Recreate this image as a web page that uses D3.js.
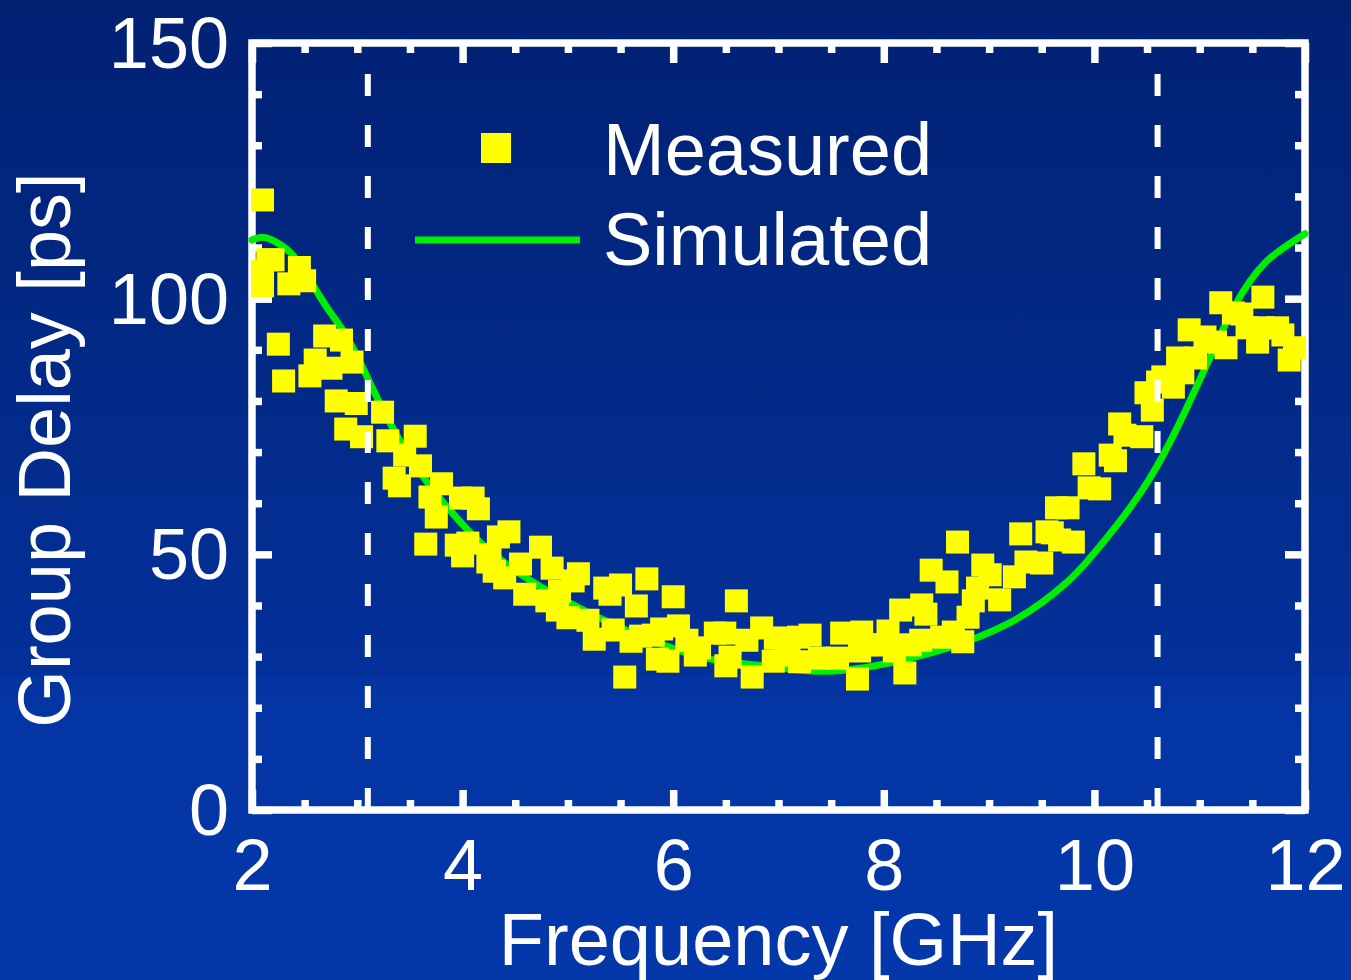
<!DOCTYPE html>
<html>
<head>
<meta charset="utf-8">
<script src="https://cdn.jsdelivr.net/npm/d3@7"></script>
<style>
  html, body { margin: 0; padding: 0; background: #02297f; }
  svg { display: block; }
  text { font-family: "Liberation Sans", Arial, sans-serif; fill: #ffffff; }
</style>
</head>
<body>
<svg id="chart" width="1351" height="980"></svg>
<script>
// ---------------- data ----------------
const xMajorTicks = [2, 4, 6, 8, 10, 12];
const xMinorTicks = [2.5, 3, 3.5, 4.5, 5, 5.5, 6.5, 7, 7.5, 8.5, 9, 9.5, 10.5, 11, 11.5];
const yMajorTicks = [0, 50, 100, 150];
const yMinorTicks = [10, 20, 30, 40, 60, 70, 80, 90, 110, 120, 130, 140];
const bandEdges = [3.1, 10.6]; // UWB band markers (GHz)

// Simulated group delay (ps) vs frequency (GHz)
const simFreq  = [2.0, 2.1, 2.2, 2.4, 2.6, 2.75, 2.9, 3.05, 3.2, 3.35, 3.6, 3.9, 4.17, 4.5, 5.0, 5.5, 6.0, 6.35, 6.8, 7.2, 7.46, 7.75, 7.95, 8.22, 8.69, 9.17, 9.51, 9.77, 9.9, 10.21, 10.53, 10.78, 11.0, 11.16, 11.32, 11.48, 11.62, 11.76, 12.0];
const simDelay = [111.5, 112.3, 111.5, 109.0, 101.8, 97.0, 93.0, 86.6, 80.0, 74.0, 65.5, 58.0, 52.0, 46.5, 40.5, 35.5, 31.5, 29.2, 28.4, 27.3, 27.0, 27.6, 28.3, 29.5, 32.0, 36.0, 40.5, 45.0, 47.8, 55.4, 64.5, 74.3, 84.1, 91.3, 98.4, 103.7, 107.2, 109.5, 112.7];

// Measured group delay (ps) vs frequency (GHz)
const measFreq = [
  2.10, 2.15, 2.20, 2.10, 2.10, 2.45, 2.50, 2.35, 2.25, 2.30,
  2.69, 2.85, 2.60, 2.95, 2.55, 2.75, 2.80, 2.99, 2.89, 3.04,
  3.24, 3.29, 3.45, 3.55, 3.60, 3.35, 3.40, 3.80, 3.69, 3.98,
  4.10, 3.75, 4.15, 3.65, 3.94, 4.05, 4.00, 4.26, 4.34, 4.44,
  4.24, 4.30, 4.40, 4.74, 4.55, 4.85, 5.10, 4.59, 4.80, 4.92,
  5.05, 5.35, 5.50, 5.75, 5.40, 5.65, 6.00, 6.60, 4.90, 5.00,
  5.19, 5.25, 5.43, 5.60, 5.69, 5.81, 5.89, 6.05, 5.85, 5.95,
  5.54, 6.13, 6.25, 6.21, 6.40, 6.49, 6.50, 6.54, 6.70, 6.75,
  6.84, 6.95, 6.97, 7.06, 7.10, 7.19, 7.20, 7.30, 7.39, 7.60,
  7.56, 7.79, 7.75, 7.77, 7.88, 8.04, 7.94, 8.10, 8.20, 8.16,
  8.25, 8.36, 8.40, 8.45, 8.60, 8.70, 8.35, 8.55, 8.66, 8.75,
  8.80, 8.85, 8.89, 8.94, 9.01, 9.10, 9.24, 9.30, 9.35, 9.50,
  9.55, 9.60, 9.64, 9.67, 9.75, 9.80, 9.95, 10.05, 9.90, 10.15,
  10.20, 10.24, 10.29, 10.45, 10.49, 10.55, 10.60, 10.65, 10.75, 10.79,
  10.84, 10.90, 10.96, 11.05, 11.15, 11.25, 11.20, 11.32, 11.40, 11.45,
  11.55, 11.60, 11.60, 11.74, 11.79, 11.85, 11.90
];
const measDelay = [
  119.3, 107.6, 107.6, 105.4, 102.5, 106.1, 103.5, 102.9, 91.1, 83.9,
  92.7, 91.9, 88.0, 87.6, 84.9, 86.4, 80.0, 79.5, 74.5, 73.0,
  77.8, 72.2, 69.4, 73.1, 67.3, 64.9, 63.4, 63.8, 61.2, 61.0,
  61.0, 57.3, 58.9, 52.0, 51.8, 52.2, 49.7, 49.9, 53.4, 54.4,
  48.5, 46.7, 45.4, 51.4, 48.1, 47.3, 46.2, 42.2, 40.9, 42.8,
  44.8, 43.4, 44.0, 45.2, 42.2, 39.9, 41.7, 40.9, 39.1, 37.6,
  37.1, 33.4, 35.2, 33.0, 34.0, 34.2, 35.4, 36.0, 29.5, 29.1,
  26.0, 33.2, 31.7, 30.3, 34.6, 34.6, 28.2, 29.9, 33.2, 26.0,
  35.6, 29.1, 33.6, 33.6, 30.3, 33.8, 29.0, 34.2, 29.7, 34.6,
  29.7, 34.8, 25.6, 31.1, 32.3, 35.0, 32.3, 31.1, 26.8, 39.1,
  32.3, 40.1, 38.3, 46.9, 44.6, 52.4, 33.2, 33.8, 34.8, 32.9,
  37.7, 40.9, 43.4, 47.9, 46.0, 41.1, 45.6, 54.0, 48.5, 48.3,
  54.4, 54.2, 59.1, 52.8, 59.1, 52.4, 63.0, 62.8, 67.7, 69.4,
  68.3, 75.5, 73.3, 73.0, 81.6, 78.2, 83.7, 84.7, 82.7, 88.4,
  85.5, 93.9, 88.4, 92.5, 91.5, 90.4, 99.2, 97.2, 97.0, 94.3,
  91.5, 100.3, 94.3, 94.3, 92.9, 88.0, 90.4
];

const legendLabels = ["Measured", "Simulated"];
const xTitle = "Frequency [GHz]";
const yTitle = "Group Delay [ps]";

// ---------------- layout ----------------
const W = 1351, H = 980;
const plot = { left: 252, right: 1305, top: 43, bottom: 810 };
const svg = d3.select("#chart");

// background gradient
const defs = svg.append("defs");
const grad = defs.append("linearGradient").attr("id", "bg")
  .attr("x1", 0).attr("y1", 0).attr("x2", 0).attr("y2", 1);
[["0", "#012173"], ["0.4", "#022a88"], ["0.69", "#03309a"], ["0.69", "#0334a2"], ["1", "#0338ab"]]
  .forEach(([o, c]) => grad.append("stop").attr("offset", o).attr("stop-color", c));
svg.append("rect").attr("width", W).attr("height", H).attr("fill", "url(#bg)");

const x = d3.scaleLinear().domain([2, 12]).range([plot.left, plot.right]);
const y = d3.scaleLinear().domain([0, 150]).range([plot.bottom, plot.top]);

const FONT = 72;
const SW = 7.5;

function styleAxis(g) {
  g.select(".domain").remove();
  g.selectAll(".tick line").attr("stroke", "#fff").attr("stroke-width", SW);
  g.selectAll("text").attr("fill", "#fff").style("font-size", FONT + "px")
    .style("font-family", '"Liberation Sans", Arial, sans-serif');
}

// bottom axis (major with labels)
svg.append("g").attr("transform", `translate(0,${plot.bottom})`)
  .call(d3.axisBottom(x).tickValues(xMajorTicks).tickSize(-20).tickPadding(29).tickFormat(d3.format("d")))
  .call(styleAxis);
svg.append("g").attr("transform", `translate(0,${plot.bottom})`)
  .call(d3.axisBottom(x).tickValues(xMinorTicks).tickSize(-10).tickFormat(""))
  .call(styleAxis);
// top axis (mirror)
svg.append("g").attr("transform", `translate(0,${plot.top})`)
  .call(d3.axisTop(x).tickValues(xMajorTicks).tickSize(-20).tickFormat(""))
  .call(styleAxis);
svg.append("g").attr("transform", `translate(0,${plot.top})`)
  .call(d3.axisTop(x).tickValues(xMinorTicks).tickSize(-10).tickFormat(""))
  .call(styleAxis);
// left axis
const yl = svg.append("g").attr("transform", `translate(${plot.left},0)`)
  .call(d3.axisLeft(y).tickValues(yMajorTicks).tickSize(-20).tickPadding(23).tickFormat(d3.format("d")))
  .call(styleAxis);
yl.selectAll("text").attr("dy", "0.34em");
svg.append("g").attr("transform", `translate(${plot.left},0)`)
  .call(d3.axisLeft(y).tickValues(yMinorTicks).tickSize(-10).tickFormat(""))
  .call(styleAxis);
// right axis
svg.append("g").attr("transform", `translate(${plot.right},0)`)
  .call(d3.axisRight(y).tickValues(yMajorTicks).tickSize(-20).tickFormat(""))
  .call(styleAxis);
svg.append("g").attr("transform", `translate(${plot.right},0)`)
  .call(d3.axisRight(y).tickValues(yMinorTicks).tickSize(-10).tickFormat(""))
  .call(styleAxis);

// frame
svg.append("rect")
  .attr("x", plot.left).attr("y", plot.top)
  .attr("width", plot.right - plot.left).attr("height", plot.bottom - plot.top)
  .attr("fill", "none").attr("stroke", "#fff").attr("stroke-width", SW);

// simulated curve
const sim = simFreq.map((f, i) => [f, simDelay[i]]);
const line = d3.line().x(d => x(d[0])).y(d => y(d[1])).curve(d3.curveBasis);
svg.append("path").datum(sim)
  .attr("d", line).attr("fill", "none")
  .attr("stroke", "#00ee00").attr("stroke-width", 7).attr("stroke-linecap", "round");

// measured points
const meas = measFreq.map((f, i) => [f, measDelay[i]]);
const SQ = 23;
svg.append("g").selectAll("rect").data(meas).join("rect")
  .attr("x", d => x(d[0]) - SQ / 2).attr("y", d => y(d[1]) - SQ / 2)
  .attr("width", SQ).attr("height", SQ).attr("fill", "#ffff00");

// band-edge dashed lines
svg.append("g").selectAll("line").data(bandEdges).join("line")
  .attr("x1", d => x(d)).attr("x2", d => x(d))
  .attr("y1", y(150) + 31).attr("y2", y(0))
  .attr("stroke", "#fff").attr("stroke-width", 6)
  .attr("stroke-dasharray", "22,29");

// legend
svg.append("rect").attr("x", 481).attr("y", 133).attr("width", 30).attr("height", 30).attr("fill", "#ffff00");
svg.append("line").attr("x1", 415).attr("x2", 580).attr("y1", 240).attr("y2", 240)
  .attr("stroke", "#00ee00").attr("stroke-width", 7);
svg.append("text").attr("x", 603).attr("y", 175).style("font-size", "74px").text(legendLabels[0]);
svg.append("text").attr("x", 603).attr("y", 265).style("font-size", "74px").text(legendLabels[1]);

// axis titles
svg.append("text").attr("x", (plot.left + plot.right) / 2).attr("y", 965)
  .attr("text-anchor", "middle").style("font-size", "74px").text(xTitle);
svg.append("text").attr("transform", "translate(70,450) rotate(-90)")
  .attr("text-anchor", "middle").style("font-size", "74px").text(yTitle);
</script>
</body>
</html>
